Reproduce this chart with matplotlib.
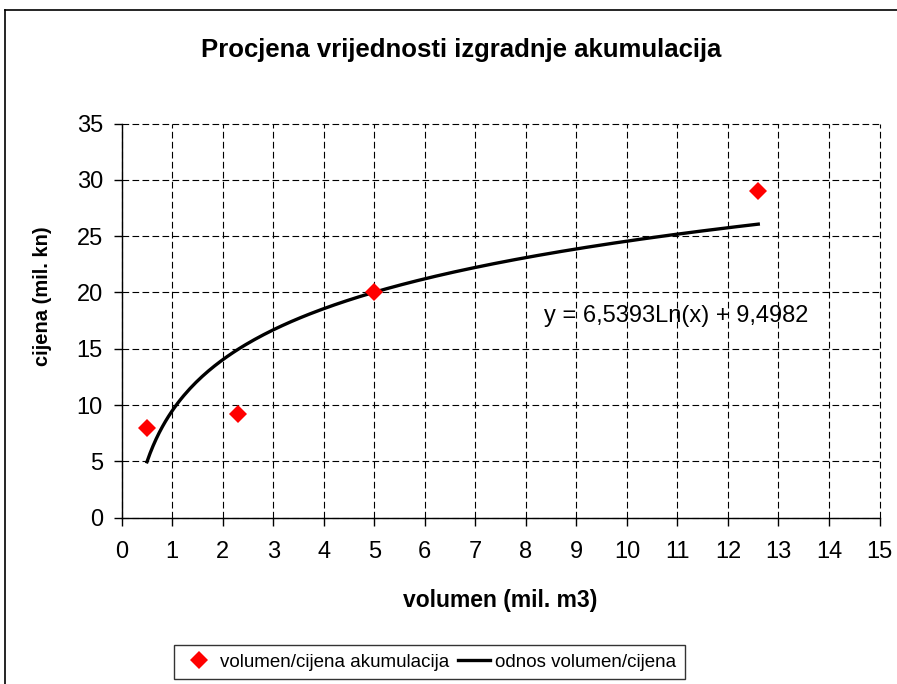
import numpy as np
import matplotlib
matplotlib.use('Agg')
import matplotlib.pyplot as plt
from matplotlib.lines import Line2D

plt.rcParams['font.family'] = ['Liberation Sans', 'DejaVu Sans']

# podaci akumulacija
volumen = [0.5, 2.3, 5.0, 12.6]     # mil. m3
cijena = [8.0, 9.2, 20.0, 29.0]     # mil. kn

# logaritamski trend: y = a*Ln(x) + b
a = 6.5393
b = 9.4982

x_trend = np.linspace(min(volumen), max(volumen), 200)
y_trend = a * np.log(x_trend) + b

fig = plt.figure(figsize=(8.97, 6.84), dpi=100)
ax = fig.add_axes([0.1357, 0.2431, 0.9805 - 0.1357, 0.8194 - 0.2431])

ax.plot(volumen, cijena, linestyle='none', marker='D', color='#ff0000',
        markersize=9.5, markeredgewidth=0, label='volumen/cijena akumulacija',
        zorder=4)
ax.plot(x_trend, y_trend, color='black', lw=2.4,
        label='odnos volumen/cijena', zorder=3)

ax.set_xlim(0, 15)
ax.set_ylim(0, 35)
ax.set_xticks(np.arange(0, 16, 1))
ax.set_yticks(np.arange(0, 36, 5))
ax.tick_params(direction='out', length=5.5, width=1, labelsize=17, color='black')
ax.tick_params(axis='x', pad=11)
ax.tick_params(axis='y', pad=8)

ax.grid(True, color='black', linestyle=(0, (6, 3)), lw=0.8)
for gl in ax.get_xgridlines() + ax.get_ygridlines():
    gl.set_clip_on(False)
ax.set_axisbelow(True)
for s in ['top', 'right']:
    ax.spines[s].set_visible(False)
for s in ['left', 'bottom']:
    ax.spines[s].set_linewidth(1)

ax.set_xlabel('volumen (mil. m3)', fontsize=16.5, fontweight='bold')
ax.xaxis.set_label_coords(0.5, -0.209)
ax.xaxis.label.set_va('center')
ax.set_ylabel('cijena (mil. kn)', fontsize=14.5, fontweight='bold')
ax.yaxis.set_label_coords(-0.104, 0.562)
ax.yaxis.label.set_va('center')

ax.text(8.35, 17.9, 'y = 6,5393Ln(x) + 9,4982', fontsize=17,
        ha='left', va='center')

fig.text(0.514, 0.927, 'Procjena vrijednosti izgradnje akumulacija',
         fontsize=18.5, fontweight='bold', ha='center', va='center')

# okvir grafikona
fig.add_artist(Line2D([5 / 897, 5 / 897], [0, 1 - 10 / 684], color='black',
                      lw=1.2, transform=fig.transFigure))
fig.add_artist(Line2D([5 / 897, 1], [1 - 10 / 684, 1 - 10 / 684], color='black',
                      lw=1.2, transform=fig.transFigure))

leg = fig.legend(loc='center', bbox_to_anchor=(0.479, 0.032), ncol=2,
                 fontsize=13.5, frameon=True, fancybox=False, shadow=False,
                 handlelength=1.7, columnspacing=0.45, handletextpad=0.3,
                 borderpad=0.45, borderaxespad=0)
leg.get_frame().set_edgecolor('black')
leg.get_frame().set_linewidth(1)

fig.savefig('out.png', dpi=100)
